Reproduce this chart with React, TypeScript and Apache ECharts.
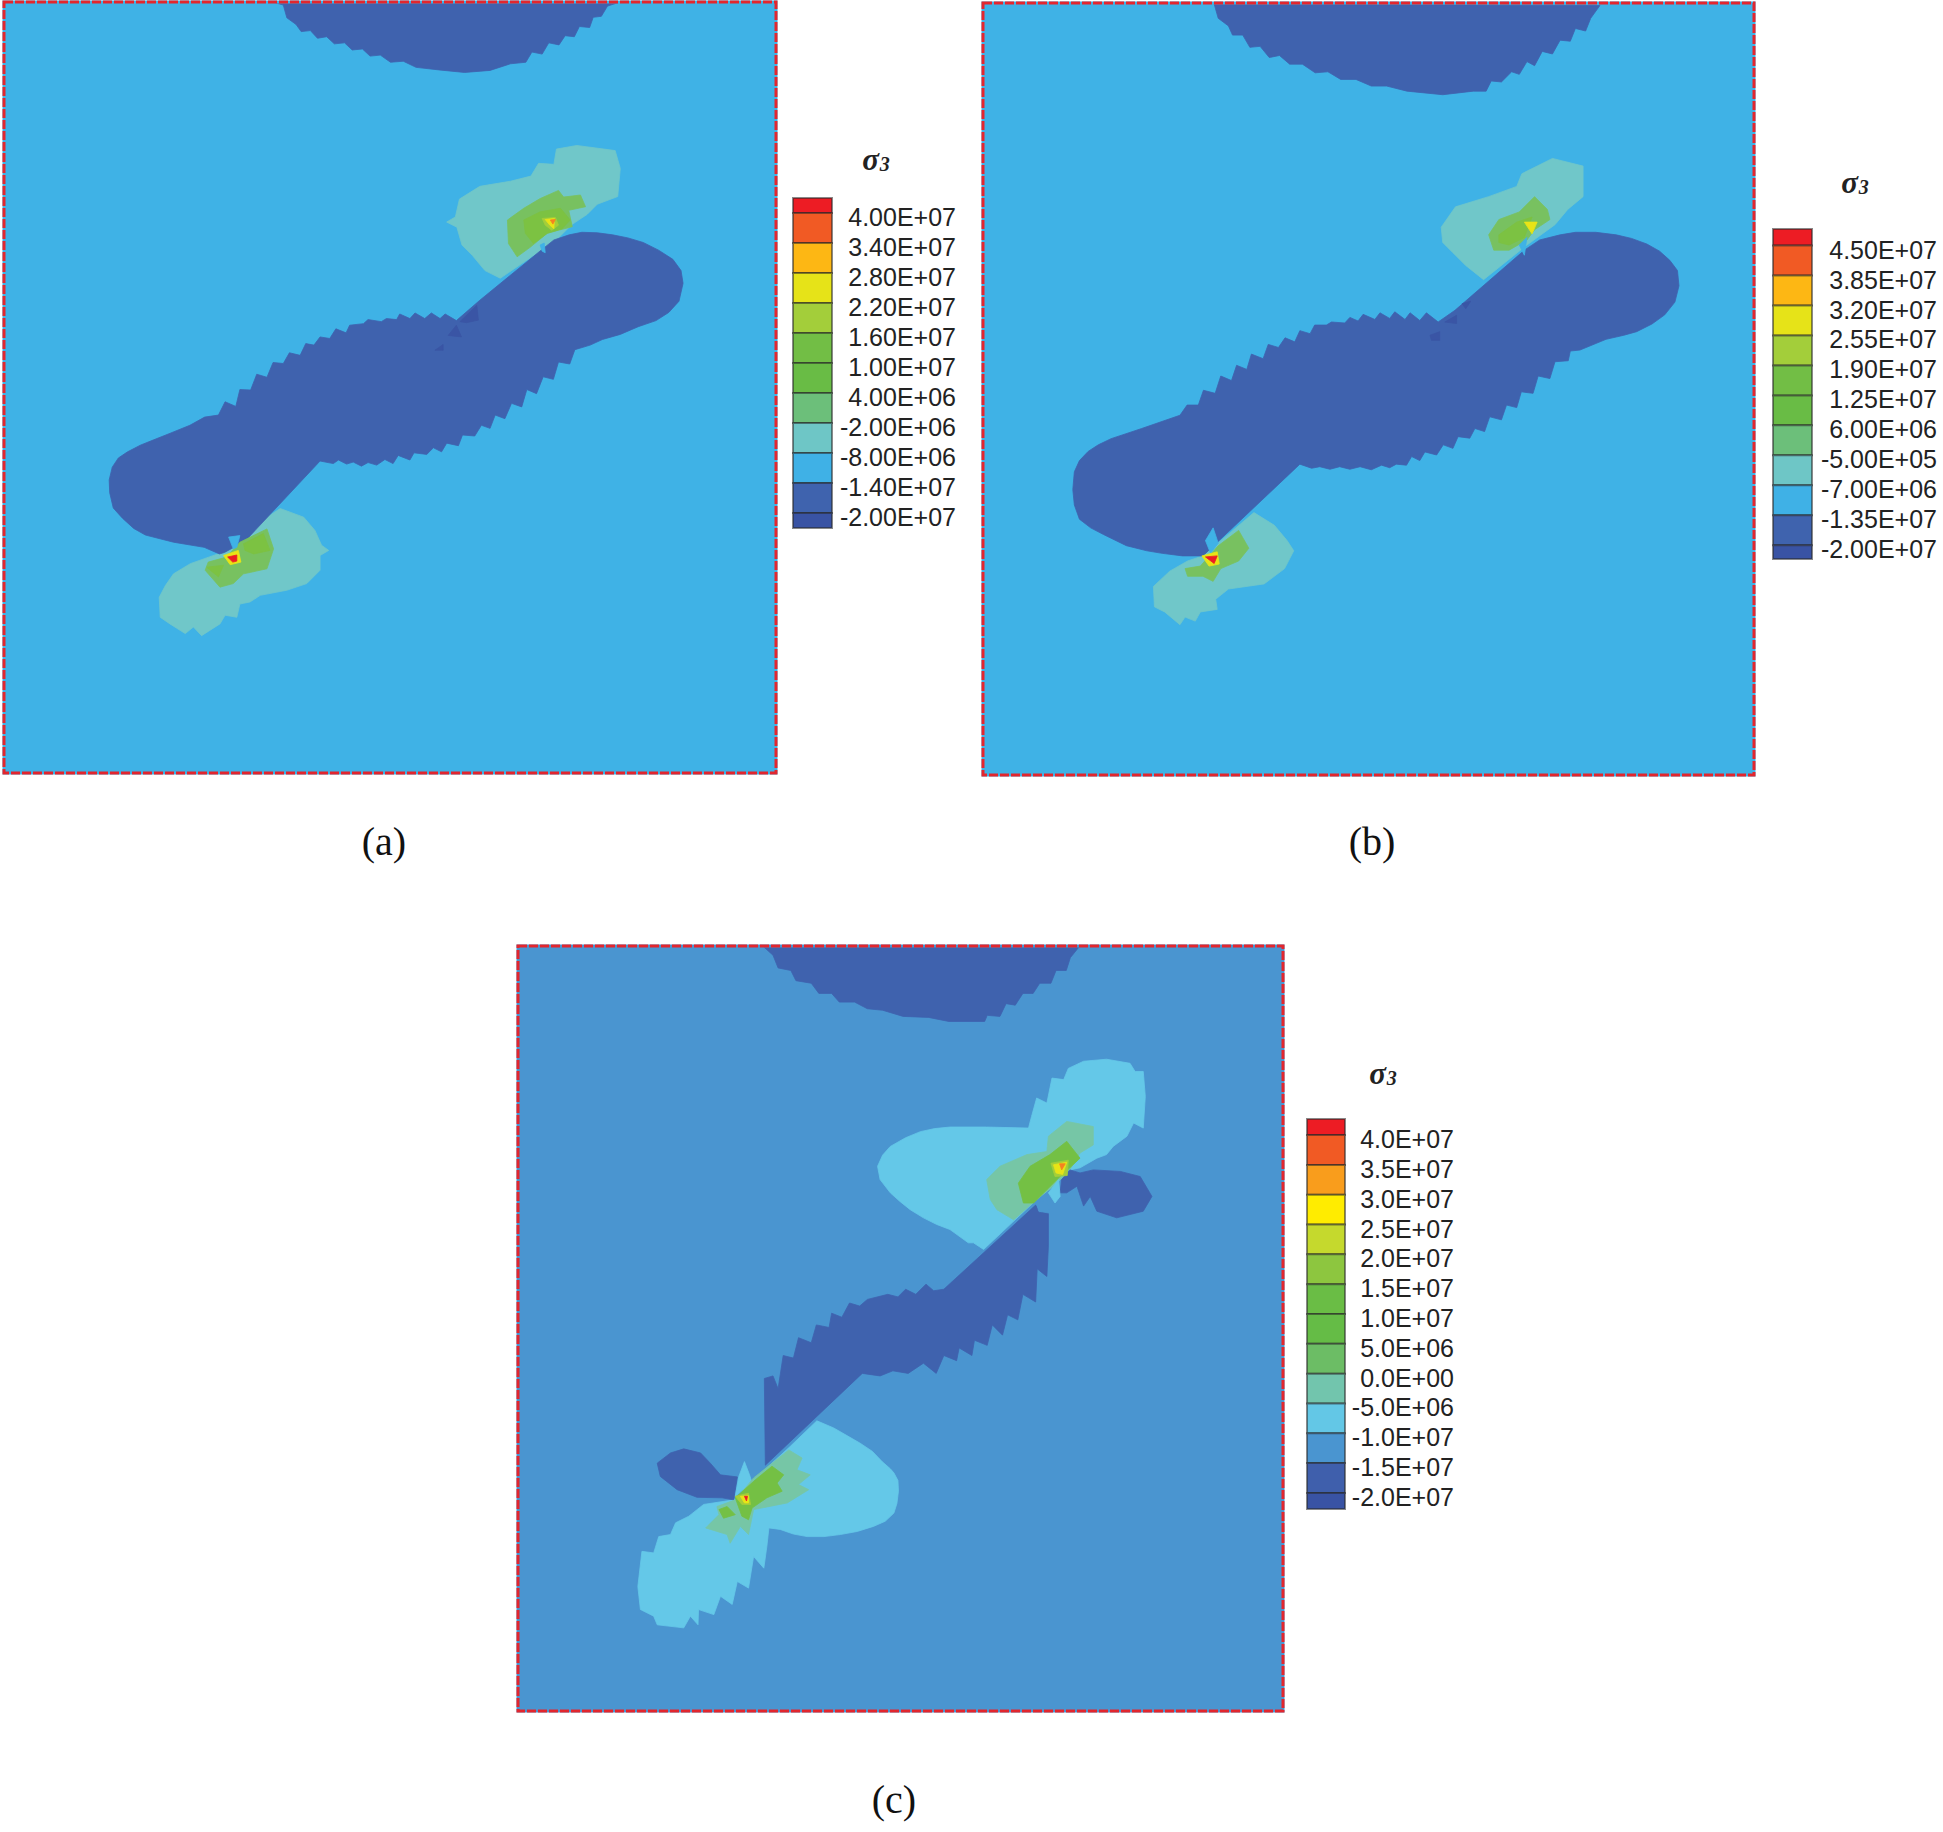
import React, { useEffect, useRef } from "react";
import * as echarts from "echarts";

type P = number[][];

// Colours of contour bands
const SKY = "#3FB2E6", BLUE = "#3F62AE", DEEP = "#3A55A5", TEAL = "#70C7C9", SEA = "#78C160", GRN = "#7CC242",
  LIME = "#A5CE39", YEL = "#E8E416", ORG = "#F58220", RED = "#ED1C24";
const BG_C = "#4A95D0", PALE_C = "#64C8E8", SEA_C = "#76C6A6", GRN_C = "#74C044";
const FRAME = "#E2262E";

// Panel (a) outlines, in model units
const extentA = { x: [8, 1520], y: [4, 1514] };
const capA: P = [[535,4],[555,10],[562,35],[580,48],[590,62],[608,60],[622,75],[640,72],[655,86],[675,84],[690,98],[710,96],[725,110],[745,108],[765,122],[790,120],[815,132],[860,137],[910,142],[960,138],[1000,125],[1030,122],[1042,102],[1062,106],[1075,84],[1095,88],[1107,70],[1125,72],[1135,52],[1155,54],[1162,34],[1178,32],[1190,12],[1215,4]];
const bodyA: P = [[440,1082],[480,1060],[627,903],[653,908],[663,901],[679,909],[692,905],[708,913],[721,906],[738,911],[754,900],[770,908],[780,892],[803,901],[811,887],[836,890],[849,877],[865,885],[875,868],[898,873],[906,852],[930,854],[943,833],[960,839],[970,813],[989,820],[1002,790],[1022,797],[1032,763],[1051,771],[1064,738],[1084,743],[1094,709],[1116,713],[1126,685],[1156,676],[1180,665],[1215,655],[1250,640],[1285,628],[1310,612],[1330,590],[1338,555],[1334,530],[1318,508],[1290,490],[1260,475],[1230,466],[1200,460],[1170,456],[1140,455],[1115,460],[1085,470],[1060,490],[940,588],[894,628],[872,615],[862,624],[845,613],[832,624],[813,613],[803,624],[783,615],[777,626],[757,624],[747,630],[721,626],[712,634],[685,637],[678,652],[658,644],[646,663],[627,660],[615,676],[599,673],[588,696],[567,691],[555,712],[535,710],[523,739],[503,733],[491,764],[470,763],[462,796],[441,787],[428,813],[401,817],[372,833],[335,848],[300,862],[275,872],[250,885],[232,897],[220,915],[214,940],[215,965],[222,995],[240,1015],[262,1035],[285,1048],[340,1062],[400,1072],[430,1085]];
const speckA1: P = [[901,630],[934,598],[937,627],[914,632]];
const speckA2: P = [[878,657],[894,637],[904,660]];
const speckA3: P = [[852,686],[868,675],[868,686]];
const tealUpA: P = [[875,435],[892,425],[900,390],[940,365],[1000,355],[1040,345],[1055,320],[1085,322],[1090,292],[1130,285],[1205,295],[1215,330],[1210,385],[1170,400],[1150,420],[1120,440],[1090,470],[980,545],[950,530],[925,500],[905,480],[895,445]];
const seaUpA: P = [[994,431],[1026,408],[1058,389],[1094,373],[1104,386],[1137,382],[1147,405],[1114,412],[1121,444],[1094,451],[1072,457],[1039,484],[1013,503],[996,477]];
const grnUpA: P = [[1026,431],[1058,415],[1098,408],[1117,431],[1101,448],[1072,457],[1045,477],[1029,457]];
const limeUpA: P = [[1062,428],[1088,426],[1094,441],[1081,451],[1068,441]];
const yelUpA: P = [[1068,430],[1086,428],[1085,448],[1077,441]];
const orgUpA: P = [[1078,431],[1088,430],[1083,439]];
const spikeUpA: P = [[1058,480],[1066,476],[1068,495],[1062,492]];
const tealLowA: P = [[549,996],[595,1013],[617,1039],[630,1068],[644,1078],[627,1088],[627,1117],[601,1143],[562,1156],[510,1166],[490,1179],[470,1183],[464,1209],[441,1205],[431,1222],[395,1245],[379,1228],[363,1241],[333,1222],[314,1209],[312,1170],[324,1147],[340,1124],[373,1104],[438,1081],[484,1039]];
const seaLowA: P = [[470,1062],[523,1036],[536,1075],[523,1114],[477,1124],[457,1143],[431,1150],[402,1117],[408,1101],[444,1091]];
const grnLowA1: P = [[405,1111],[438,1107],[428,1130]];
const grnLowA2: P = [[477,1065],[516,1045],[529,1078],[497,1085],[480,1078]];
const limeLowA: P = [[438,1088],[467,1078],[472,1101],[451,1106]];
const redLowA: P = [[446,1091],[464,1087],[464,1099],[456,1101]];
const spikeLowA: P = [[448,1052],[470,1049],[464,1072],[457,1075]];

// Panel (b) outlines
const extentB = { x: [-131, 1380], y: [5, 1520] };
const capB: P = [[322,7],[330,35],[350,50],[358,68],[378,68],[392,92],[412,90],[430,112],[450,108],[470,125],[495,125],[520,142],[545,140],[570,155],[600,155],[630,168],[660,168],[700,178],[770,185],[830,178],[855,178],[865,158],[885,160],[905,140],[920,145],[935,120],[950,128],[965,100],[985,105],[1000,78],[1020,80],[1030,55],[1050,60],[1060,35],[1078,10]];
const bodyB: P = [[300,1090],[490,910],[513,918],[529,915],[549,920],[568,915],[588,920],[608,915],[630,921],[650,912],[666,917],[679,910],[699,912],[709,895],[725,903],[735,886],[758,892],[771,872],[790,879],[800,856],[823,859],[833,840],[852,846],[862,817],[885,823],[895,794],[915,799],[924,768],[947,771],[957,737],[980,742],[990,709],[1016,707],[1020,688],[1039,686],[1090,665],[1125,657],[1150,650],[1180,635],[1205,617],[1225,592],[1233,560],[1230,530],[1215,510],[1195,492],[1170,478],[1140,467],[1110,460],[1070,455],[1030,455],[1000,460],[960,470],[930,490],[794,608],[761,631],[738,613],[725,628],[706,613],[696,626],[676,611],[666,624],[647,613],[637,626],[614,616],[604,629],[588,622],[578,633],[552,631],[542,637],[519,637],[510,654],[490,648],[480,670],[461,662],[448,681],[428,675],[418,703],[395,694],[386,724],[366,716],[356,746],[335,737],[324,771],[301,765],[291,794],[269,794],[255,814],[180,840],[120,860],[95,872],[75,885],[58,903],[48,925],[45,960],[48,990],[58,1018],[80,1035],[105,1048],[150,1070],[190,1080],[220,1085],[260,1090]];
const speckB1: P = [[774,631],[797,618],[797,634]];
const speckB2: P = [[745,657],[764,650],[764,667],[748,667]];
const speckB3: P = [[808,595],[825,590],[815,605]];
const tealUpB: P = [[767,445],[795,405],[860,385],[915,365],[925,340],[955,325],[985,310],[1045,325],[1045,385],[1015,410],[990,440],[935,480],[850,548],[815,520],[790,495],[770,475]];
const seaUpB: P = [[860,460],[880,430],[920,415],[950,385],[975,410],[980,430],[950,450],[935,470],[900,490],[870,490]];
const grnUpB: P = [[880,460],[915,435],[945,425],[930,465],[900,480],[880,475]];
const yelUpB: P = [[930,435],[955,435],[945,458]];
const spikeUpB: P = [[920,480],[935,465],[930,500]];
const tealLowB: P = [[400,1005],[440,1030],[465,1060],[478,1080],[460,1115],[420,1145],[350,1155],[325,1175],[328,1195],[295,1200],[285,1218],[265,1210],[255,1225],[225,1200],[205,1190],[203,1150],[235,1120],[270,1100],[300,1090]];
const seaLowB: P = [[330,1070],[370,1040],[390,1075],[370,1100],[335,1115],[320,1140],[300,1130],[270,1130],[265,1115],[295,1110]];
const limeLowB: P = [[298,1090],[328,1082],[332,1106],[312,1110]];
const redLowB: P = [[305,1092],[328,1090],[322,1105]];
const spikeLowB: P = [[305,1060],[320,1035],[330,1065],[315,1085]];

// Panel (c) outlines
const extentC = { x: [15, 1515], y: [12, 1512] };
const capC: P = [[497,14],[515,30],[525,55],[550,60],[560,80],[590,85],[605,105],[630,105],[645,122],[675,122],[700,135],[730,138],[770,150],[820,152],[860,160],[930,160],[935,148],[960,150],[972,125],[990,128],[1005,105],[1025,105],[1038,85],[1060,85],[1070,60],[1090,60],[1098,35],[1115,14]];
const bodyC: P = [[500,1030],[498,860],[515,855],[525,880],[535,815],[555,820],[565,780],[590,790],[600,755],[625,760],[630,732],[650,740],[665,712],[685,718],[700,705],[740,695],[760,700],[775,685],[795,695],[815,675],[830,688],[850,685],[1030,520],[1038,535],[1055,530],[1055,600],[1052,660],[1033,645],[1030,710],[1005,695],[995,745],[975,735],[965,775],[945,755],[935,795],[910,785],[905,815],[880,800],[875,825],[850,815],[835,850],[810,830],[780,850],[750,845],[725,855],[690,850]];
const paleUpC: P = [[720,444],[730,422],[745,405],[775,388],[804,376],[832,370],[862,367],[934,367],[1016,369],[1022,346],[1032,310],[1052,320],[1062,271],[1085,274],[1094,252],[1124,238],[1169,234],[1215,242],[1225,258],[1241,258],[1245,307],[1241,369],[1222,359],[1209,385],[1182,405],[1169,421],[1150,428],[1117,447],[1097,451],[1078,470],[1032,509],[928,607],[908,594],[898,594],[862,568],[836,558],[810,545],[784,529],[764,513],[745,496],[725,470]];
const seaUpC: P = [[934,470],[960,444],[1013,421],[1052,415],[1055,385],[1091,356],[1143,366],[1143,402],[1117,418],[1097,451],[1065,483],[1032,509],[987,549],[954,529],[941,509]];
const grnUpC: P = [[996,477],[1019,444],[1058,421],[1091,395],[1117,428],[1097,447],[1078,464],[1052,490],[1026,516],[1006,516]];
const limeUpC: P = [[1060,438],[1094,432],[1092,462],[1068,464]];
const yelUpC: P = [[1065,441],[1091,436],[1083,460],[1070,457]];
const orgUpC: P = [[1077,439],[1088,439],[1081,451]];
const lobeRightC: P = [[1078,496],[1081,470],[1097,451],[1117,457],[1143,451],[1196,454],[1235,464],[1258,503],[1241,532],[1189,545],[1150,532],[1137,503],[1124,522],[1111,483],[1091,496]];
const spikeUpC: P = [[1055,496],[1075,470],[1078,503],[1068,516]];
const gapUpC: P = [[1032,516],[1052,510],[1058,536],[1036,532]];
const paleLowC: P = [[601,943],[634,957],[660,972],[686,987],[710,1003],[729,1023],[745,1037],[752,1045],[760,1060],[761,1081],[758,1105],[752,1124],[735,1140],[712,1150],[680,1160],[647,1166],[615,1170],[582,1170],[555,1165],[529,1156],[507,1153],[503,1189],[497,1232],[477,1209],[467,1271],[445,1258],[435,1303],[412,1287],[399,1323],[369,1313],[368,1343],[353,1326],[340,1349],[288,1343],[281,1326],[255,1313],[250,1268],[258,1199],[281,1202],[291,1170],[314,1166],[324,1143],[350,1130],[379,1107],[438,1098],[477,1059],[549,993]];
const lobeLeftC: P = [[288,1026],[314,1006],[340,998],[373,1006],[392,1026],[412,1049],[445,1053],[438,1098],[415,1094],[366,1093],[327,1078],[294,1052]];
const spikeLowC: P = [[448,1052],[459,1023],[469,1049],[474,1065],[464,1072],[441,1091]];
const seaLowC: P = [[477,1055],[546,1000],[572,1016],[562,1039],[588,1049],[565,1068],[585,1078],[543,1104],[477,1117],[467,1166],[451,1150],[431,1183],[425,1166],[383,1153],[409,1127],[405,1111],[441,1098]];
const grnLowC1: P = [[480,1059],[513,1032],[536,1049],[523,1065],[533,1081],[503,1094],[474,1114],[467,1137],[454,1130],[441,1094]];
const grnLowC2: P = [[409,1117],[425,1111],[441,1127],[418,1134]];
const limeLowC: P = [[441,1091],[467,1085],[471,1107],[454,1107]];
const yelLowC: P = [[451,1091],[467,1090],[467,1104],[459,1104]];
const redLowC: P = [[459,1091],[465,1091],[463,1100]];

// Legends: tick levels, tick labels and band colours (top to bottom)
const levelsA = [4e7, 3.4e7, 2.8e7, 2.2e7, 1.6e7, 1e7, 4e6, -2e6, -8e6, -1.4e7, -2e7];
const labelsA = ["4.00E+07", "3.40E+07", "2.80E+07", "2.20E+07", "1.60E+07", "1.00E+07", "4.00E+06", "-2.00E+06", "-8.00E+06", "-1.40E+07", "-2.00E+07"];
const bandsA = ["#ED1C24", "#F15A24", "#FDB714", "#E6E318", "#A3CE3A", "#72BE45", "#69BC45", "#6CBF7A", "#6EC6C6", "#3FB1E6", "#3F63AE", "#3953A4"];
const rangeA = [-2.3e7, 4.3e7];

const levelsB = [4.5e7, 3.85e7, 3.2e7, 2.55e7, 1.9e7, 1.25e7, 6e6, -5e5, -7e6, -1.35e7, -2e7];
const labelsB = ["4.50E+07", "3.85E+07", "3.20E+07", "2.55E+07", "1.90E+07", "1.25E+07", "6.00E+06", "-5.00E+05", "-7.00E+06", "-1.35E+07", "-2.00E+07"];
const bandsB = ["#ED1C24", "#F15A24", "#FDB714", "#E6E318", "#A3CE3A", "#72BE45", "#69BC45", "#6CBF7A", "#6EC6C6", "#3FB1E6", "#3F63AE", "#3953A4"];
const rangeB = [-2.3e7, 4.86e7];

const levelsC = [4e7, 3.5e7, 3e7, 2.5e7, 2e7, 1.5e7, 1e7, 5e6, 0, -5e6, -1e7, -1.5e7, -2e7];
const labelsC = ["4.0E+07", "3.5E+07", "3.0E+07", "2.5E+07", "2.0E+07", "1.5E+07", "1.0E+07", "5.0E+06", "0.0E+00", "-5.0E+06", "-1.0E+07", "-1.5E+07", "-2.0E+07"];
const bandsC = ["#ED1C24", "#F15A24", "#F99D1C", "#FFEC00", "#C5D92D", "#8DC63F", "#6ABD45", "#65BC46", "#6CBD65", "#72C5AD", "#63C7E6", "#4A95D0", "#3F5FAC", "#3953A4"];
const rangeC = [-2.27e7, 4.27e7];

const SERIF = "'Liberation Serif', serif";
const SANS = "'Liberation Sans', Arial, sans-serif";

type Region = [P, string];
const panelA: Region[] = [[capA, BLUE], [tealUpA, TEAL], [tealLowA, TEAL], [bodyA, BLUE], [speckA1, DEEP], [speckA2, DEEP], [speckA3, DEEP], [seaUpA, SEA], [grnUpA, GRN], [limeUpA, LIME], [yelUpA, YEL], [orgUpA, ORG], [spikeUpA, SKY], [seaLowA, SEA], [grnLowA1, GRN], [grnLowA2, GRN], [spikeLowA, SKY], [limeLowA, YEL], [redLowA, RED]];
const panelB: Region[] = [[capB, BLUE], [tealUpB, TEAL], [tealLowB, TEAL], [bodyB, BLUE], [speckB1, DEEP], [speckB2, DEEP], [speckB3, DEEP], [seaUpB, SEA], [grnUpB, GRN], [yelUpB, YEL], [spikeUpB, SKY], [seaLowB, SEA], [spikeLowB, SKY], [limeLowB, YEL], [redLowB, RED]];
const panelC: Region[] = [[capC, BLUE], [bodyC, BLUE], [paleUpC, PALE_C], [seaUpC, SEA_C], [grnUpC, GRN_C], [gapUpC, BG_C], [lobeRightC, BLUE], [spikeUpC, PALE_C], [limeUpC, LIME], [yelUpC, YEL], [orgUpC, ORG], [paleLowC, PALE_C], [lobeLeftC, BLUE], [spikeLowC, PALE_C], [seaLowC, SEA_C], [grnLowC1, GRN_C], [grnLowC2, GRN_C], [limeLowC, LIME], [yelLowC, YEL], [redLowC, RED]];

function corners(e: { x: number[]; y: number[] }): P {
  return [[e.x[0], e.y[0]], [e.x[1], e.y[0]], [e.x[1], e.y[1]], [e.x[0], e.y[1]]];
}

function panelSeries(idx: number, regions: Region[], ext: { x: number[]; y: number[] }, bg: string) {
  const frame = corners(ext);
  const items: { pts: P; fill?: string; stroke?: string; dash?: number[] }[] = [
    { pts: frame, fill: bg },
    ...regions.map(([pts, fill]) => ({ pts, fill })),
    { pts: frame, stroke: bg },
    { pts: frame, stroke: FRAME, dash: [9, 2] },
  ];
  return {
    type: "custom",
    xAxisIndex: idx,
    yAxisIndex: idx,
    silent: true,
    clip: false,
    data: items.map((_, i) => [i, i]),
    renderItem: (params: any, api: any) => {
      const it = items[params.dataIndex];
      return {
        type: "polygon",
        shape: { points: it.pts.map((p) => api.coord(p)) },
        style: it.stroke
          ? { fill: "none", stroke: it.stroke, lineWidth: 3, lineDash: it.dash }
          : { fill: it.fill, stroke: it.fill, lineWidth: 0.8 },
      };
    },
  };
}

function legendSeries(idx: number, levels: number[], colors: string[], range: number[]) {
  const edges = [range[1], ...levels, range[0]];
  return {
    type: "custom",
    xAxisIndex: idx,
    yAxisIndex: idx,
    silent: true,
    clip: false,
    data: colors.map((_, i) => [i, edges[i]]),
    renderItem: (params: any, api: any) => {
      const i = params.dataIndex;
      const a = api.coord([0, edges[i]]);
      const b = api.coord([1, edges[i + 1]]);
      return {
        type: "rect",
        shape: { x: a[0], y: a[1], width: b[0] - a[0], height: b[1] - a[1] },
        style: { fill: colors[i], stroke: "rgba(40,40,40,0.55)", lineWidth: 2 },
      };
    },
  };
}

const hiddenX = (min: number, max: number, gridIndex: number) => ({
  type: "value", gridIndex, min, max, show: false, splitLine: { show: false },
});
const hiddenY = (min: number, max: number, gridIndex: number) => ({
  type: "value", gridIndex, min, max, inverse: true, show: false, splitLine: { show: false },
});
const legendY = (levels: number[], labels: string[], range: number[], gridIndex: number, margin: number) => ({
  type: "value",
  gridIndex,
  position: "right",
  min: range[0],
  max: range[1],
  axisLine: { show: false },
  axisTick: { show: false },
  splitLine: { show: false },
  axisLabel: {
    customValues: levels,
    formatter: (v: number) => labels[levels.indexOf(v)] ?? "",
    align: "right",
    verticalAlign: "top",
    lineHeight: 8,
    margin,
    color: "#222",
    fontFamily: SANS,
    fontSize: 25,
    showMinLabel: true,
    showMaxLabel: true,
  },
});

const sigmaTitle = (left: number, top: number) => ({
  text: "{s|σ}{n|3}",
  left,
  top,
  textAlign: "center",
  textVerticalAlign: "middle",
  textStyle: {
    rich: {
      s: { fontFamily: SERIF, fontStyle: "italic", fontWeight: "bold", fontSize: 31, color: "#222" },
      n: { fontFamily: SERIF, fontStyle: "italic", fontWeight: "bold", fontSize: 20, color: "#222", padding: [9, 0, 0, 1] },
    },
  },
});
const caption = (text: string, left: number, top: number) => ({
  text,
  left,
  top,
  textAlign: "center",
  textVerticalAlign: "middle",
  textStyle: { fontFamily: SERIF, fontWeight: "normal", fontSize: 40, color: "#111" },
});

export default function App() {
  const ref = useRef<HTMLDivElement>(null);
  useEffect(() => {
    const chart = echarts.init(ref.current!, undefined, { renderer: "svg" });
    chart.setOption({
      animation: false,
      backgroundColor: "#fff",
      title: [
        sigmaTitle(871, 154), sigmaTitle(1850, 177), sigmaTitle(1378, 1068),
        caption("(a)", 379, 836), caption("(b)", 1367, 836), caption("(c)", 889, 1794),
      ],
      grid: [
        { left: 4, top: 2, width: 772, height: 771 },
        { left: 983, top: 3, width: 771, height: 772 },
        { left: 518, top: 946, width: 765, height: 765 },
        { left: 793, top: 198, width: 39, height: 330 },
        { left: 1773, top: 229, width: 39, height: 330 },
        { left: 1307, top: 1119, width: 38, height: 390 },
      ],
      xAxis: [
        hiddenX(extentA.x[0], extentA.x[1], 0),
        hiddenX(extentB.x[0], extentB.x[1], 1),
        hiddenX(extentC.x[0], extentC.x[1], 2),
        hiddenX(0, 1, 3),
        hiddenX(0, 1, 4),
        hiddenX(0, 1, 5),
      ],
      yAxis: [
        hiddenY(extentA.y[0], extentA.y[1], 0),
        hiddenY(extentB.y[0], extentB.y[1], 1),
        hiddenY(extentC.y[0], extentC.y[1], 2),
        legendY(levelsA, labelsA, rangeA, 3, 124),
        legendY(levelsB, labelsB, rangeB, 4, 125),
        legendY(levelsC, labelsC, rangeC, 5, 109),
      ],
      series: [
        panelSeries(0, panelA, extentA, SKY),
        panelSeries(1, panelB, extentB, SKY),
        panelSeries(2, panelC, extentC, BG_C),
        legendSeries(3, levelsA, bandsA, rangeA),
        legendSeries(4, levelsB, bandsB, rangeB),
        legendSeries(5, levelsC, bandsC, rangeC),
      ],
    });
    return () => chart.dispose();
  }, []);
  return <div ref={ref} style={{ position: "absolute", left: 0, top: 0, width: 1943, height: 1832 }} />;
}
